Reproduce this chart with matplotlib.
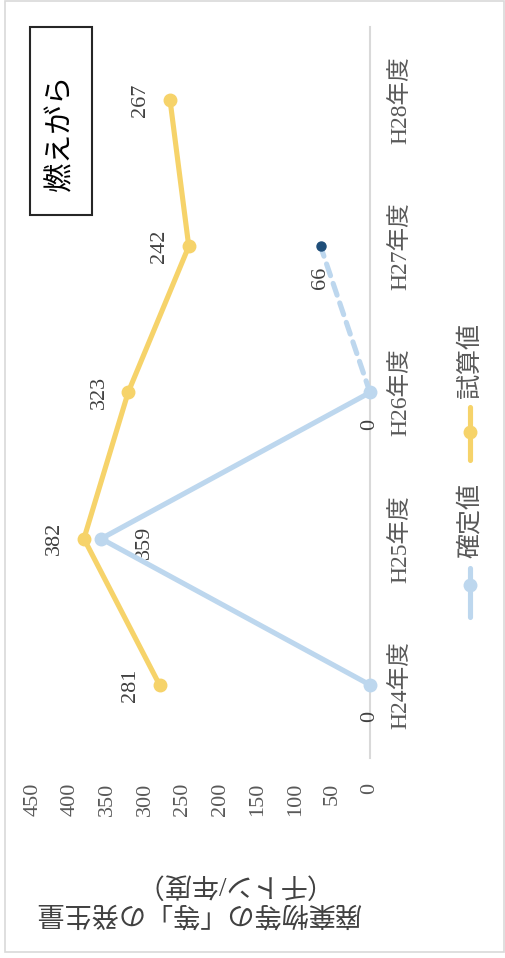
import matplotlib; matplotlib.use('Agg')
import matplotlib.pyplot as plt
from matplotlib.lines import Line2D
from matplotlib.patches import Rectangle

FONT = ['Liberation Serif', 'Noto Sans CJK JP', 'DejaVu Sans']
plt.rcParams['font.family'] = FONT

years     = ["H24年度", "H25年度", "H26年度", "H27年度", "H28年度"]
kakutei   = [0, 359, 0, 66]          # 確定値 (H24-H27)
shisan    = [281, 382, 323, 242, 267] # 試算値 (H24-H28)
kakutei_lbl_dir = ["left", "below", "left", "left"]  # label side in unrotated chart
val_ticks = list(range(0, 451, 50))

BLUE   = '#BDD7EE'
YELLOW = '#F6D36A'
NAVY   = '#1F4E79'
GRAY   = '#595959'
TXT    = '#404040'

W, H = 505, 958
fig = plt.figure(figsize=(W/100, H/100), dpi=100)
def fx(px): return px / W
def fy(py): return 1 - py / H

# chart is rotated: categories run bottom->top, values run right->left
ax = fig.add_axes([fx(33), fy(758), fx(370) - fx(33), fy(27) - fy(758)])
ax.set_xlim(450, 0)
ax.set_ylim(-0.5, len(years) - 0.5)
for s in ['top', 'bottom', 'left']:
    ax.spines[s].set_visible(False)
ax.spines['right'].set_color('#D9D9D9')
ax.spines['right'].set_linewidth(1.5)
ax.tick_params(length=0)

ax.yaxis.tick_right()
ax.set_yticks(range(len(years)))
ax.set_yticklabels(years, rotation=90, va='center', ha='center', fontsize=17, color=GRAY)
ax.tick_params(axis='y', pad=22)
ax.set_xticks(val_ticks)
ax.set_xticklabels([str(v) for v in val_ticks], rotation=90, fontsize=16, color=GRAY)
ax.tick_params(axis='x', pad=18)

yi = list(range(len(years)))
lw, ms = 3.7, 9
# 試算値
ax.plot(shisan, yi, '-o', color=YELLOW, lw=lw, ms=ms, solid_capstyle='round', zorder=3)
for v, y in zip(shisan, yi):
    ax.annotate(str(v), (v, y), xytext=(-21, 0), textcoords='offset points',
                rotation=90, ha='center', va='center', fontsize=16, color=TXT)
# 確定値 solid H24-H26, dashed H26-H27
ax.plot(kakutei[:3], yi[:3], '-o', color=BLUE, lw=lw, ms=ms, solid_capstyle='round',
        zorder=4, clip_on=False)
ax.plot(kakutei[2:4], yi[2:4], color=BLUE, lw=lw, ls=(0, (2.4, 1.6)),
        dash_capstyle='round', zorder=4)
ax.plot(kakutei[3:4], yi[3:4], 'o', color=NAVY, ms=6.5, zorder=5)
offs = {"left": (0, -23), "below": (31, -3)}
for v, y, d in zip(kakutei, yi, kakutei_lbl_dir):
    ax.annotate(str(v), (v, y), xytext=offs[d], textcoords='offset points',
                rotation=90, ha='center', va='center', fontsize=16, color=TXT)

# axis title (upside down in the rotated picture)
fig.text(fx(198), fy(898), "廃棄物等の「等」の発生量\n（千トン/年度）", rotation=180,
         ha='center', va='center', multialignment='center', fontsize=19.5,
         color=TXT, linespacing=1.15)

# title box
fig.add_artist(Rectangle((fx(30), fy(215)), fx(92) - fx(30), fy(27) - fy(215),
                         transform=fig.transFigure, fill=False, ec='#262626', lw=1.5))
fig.text(fx(61), fy(133), "燃えがら", rotation=90, ha='center', va='center',
         fontsize=21, color='black')

# legend (rotated)
for (y0, y1, ym, ty, col, name) in [(568, 617, 585, 521, BLUE, "確定値"),
                                    (407, 460, 432, 360, YELLOW, "試算値")]:
    fig.add_artist(Line2D([fx(470), fx(470)], [fy(y0), fy(y1)], color=col, lw=lw,
                          solid_capstyle='round', transform=fig.transFigure))
    fig.add_artist(Line2D([fx(470)], [fy(ym)], marker='o', color=col, ms=ms,
                          transform=fig.transFigure))
    fig.text(fx(470), fy(ty), name, rotation=90, ha='center', va='center',
             fontsize=18, color=GRAY)

# outer border
fig.add_artist(Rectangle((fx(5), fy(952)), fx(504) - fx(5), fy(1) - fy(952),
                         transform=fig.transFigure, fill=False, ec='#D9D9D9', lw=1.2))

fig.savefig('out.png', dpi=100)
